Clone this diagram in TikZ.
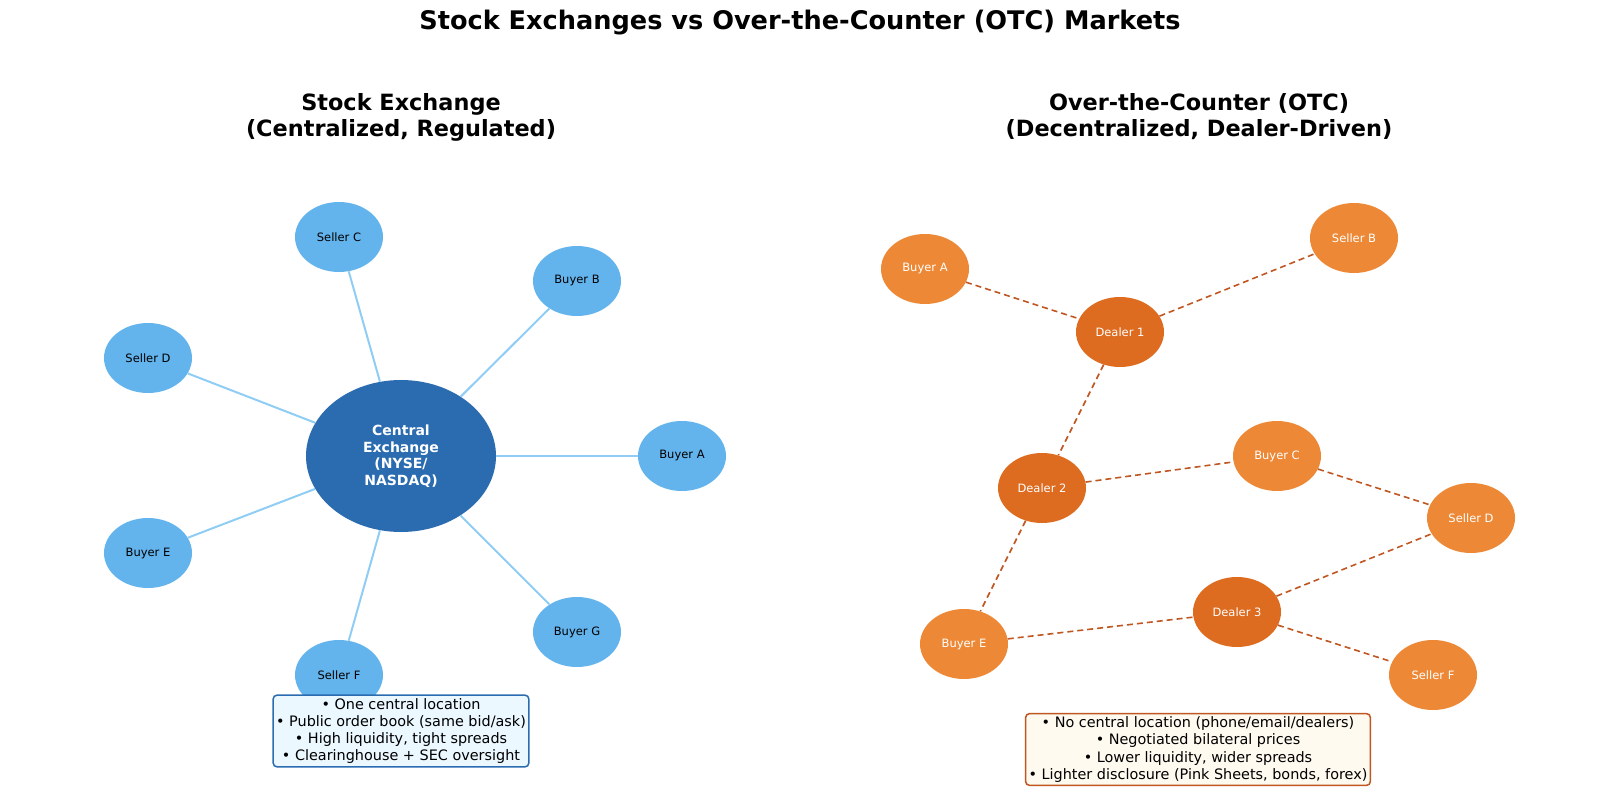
\documentclass[tikz,border=0pt]{standalone}
\usepackage{fontspec}
\setmainfont{DejaVu Sans}
\usetikzlibrary{shapes.geometric}
\definecolor{cblue}{HTML}{2B6CB0}
\definecolor{lblue}{HTML}{63B3ED}
\definecolor{eblue}{HTML}{90CDF4}
\definecolor{bxblue}{HTML}{EBF8FF}
\definecolor{orng}{HTML}{ED8936}
\definecolor{dorng}{HTML}{DD6B20}
\definecolor{eorng}{HTML}{C05621}
\definecolor{bxorng}{HTML}{FFFAF0}
\tikzset{
  x=1pt, y=-1pt,
  small/.style={ellipse, minimum width=88pt, minimum height=70pt, inner sep=0pt, font=\fontsize{11.5}{13}\selectfont},
  lnode/.style={small, fill=lblue, text=black},
  onode/.style={small, fill=orng, text=white},
  dnode/.style={small, fill=dorng, text=white},
  hub/.style={ellipse, minimum width=190pt, minimum height=152pt, inner sep=0pt, fill=cblue, text=white, align=center, font=\bfseries\fontsize{14}{16.5}\selectfont},
  ledge/.style={draw=eblue, line width=2pt},
  oedge/.style={draw=eorng, line width=1.6pt, dash pattern=on 6pt off 4pt},
  heading/.style={align=center, font=\bfseries\fontsize{22.4}{26}\selectfont},
  infobox/.style={rounded corners=4pt, line width=1.5pt, align=center, inner sep=3pt, font=\fontsize{14.4}{17.3}\selectfont},
}
\begin{document}
\begin{tikzpicture}
\useasboundingbox (0,0) rectangle (1600,794);
\node[font=\bfseries\fontsize{25.6}{30}\selectfont] (title) at (800,23) {Stock Exchanges vs Over-the-Counter (OTC) Markets};
\node[heading] (lt) at (401,117) {Stock Exchange\\(Centralized, Regulated)};
\node[heading] (rt) at (1199,117) {Over-the-Counter (OTC)\\(Decentralized, Dealer-Driven)};

% left
\node[hub] (hub) at (401,456) {Central\\Exchange\\(NYSE/\\NASDAQ)};
\node[lnode] (sc) at (339,237) {Seller C};
\node[lnode] (bb) at (577,281) {Buyer B};
\node[lnode] (sd) at (148,358) {Seller D};
\node[lnode] (ba) at (682,456) {Buyer A};
\node[lnode] (be) at (148,553) {Buyer E};
\node[lnode] (bg) at (577,632) {Buyer G};
\node[lnode] (sf) at (339,675) {Seller F};
\foreach \n in {sc,bb,sd,ba,be,bg,sf} \draw[ledge] (hub) -- (\n);

\node[infobox, draw=cblue, fill=bxblue] (lbox) at (401,731) {• One central location\\• Public order book (same bid/ask)\\• High liquidity, tight spreads\\• Clearinghouse + SEC oversight};

% right
\node[onode] (rba) at (925,269) {Buyer A};
\node[onode] (rsb) at (1354,238) {Seller B};
\node[dnode] (d1) at (1120,332) {Dealer 1};
\node[dnode] (d2) at (1042,488) {Dealer 2};
\node[onode] (rbc) at (1277,456) {Buyer C};
\node[onode] (rsd) at (1471,518) {Seller D};
\node[dnode] (d3) at (1237,612) {Dealer 3};
\node[onode] (rbe) at (964,644) {Buyer E};
\node[onode] (rsf) at (1433,675) {Seller F};
\draw[oedge] (rba) -- (d1);
\draw[oedge] (d1) -- (rsb);
\draw[oedge] (d1) -- (d2);
\draw[oedge] (d2) -- (rbc);
\draw[oedge] (rbc) -- (rsd);
\draw[oedge] (d2) -- (rbe);
\draw[oedge] (rbe) -- (d3);
\draw[oedge] (d3) -- (rsd);
\draw[oedge] (d3) -- (rsf);

\node[infobox, draw=eorng, fill=bxorng] (rbox) at (1198,749.5) {• No central location (phone/email/dealers)\\• Negotiated bilateral prices\\• Lower liquidity, wider spreads\\• Lighter disclosure (Pink Sheets, bonds, forex)};
\end{tikzpicture}
\end{document}
